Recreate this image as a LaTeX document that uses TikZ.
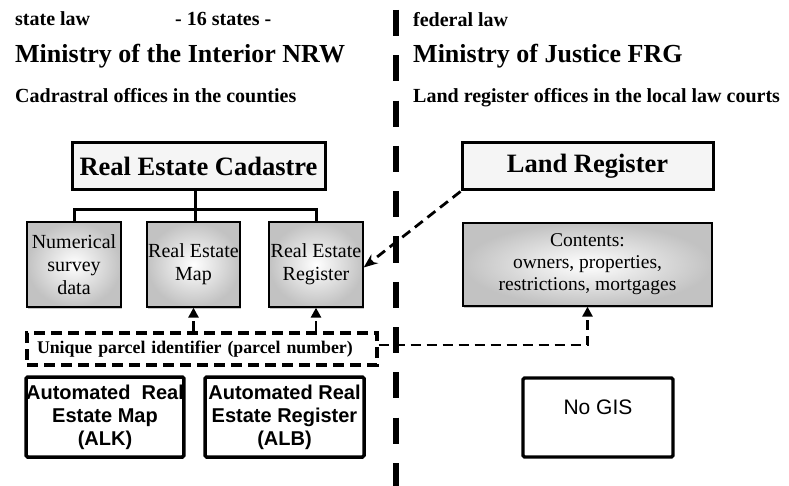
\documentclass[tikz,border=0pt]{standalone}
\usepackage{fontspec}
\setmainfont{Liberation Serif}
\newfontfamily\arialf{Liberation Sans}
\usetikzlibrary{arrows.meta,shadows}
\begin{document}
\begin{tikzpicture}[x=1pt,y=-1pt,
  hdr/.style={anchor=base west, inner sep=0pt, font=\bfseries\fontsize{20}{24}\selectfont},
  big/.style={anchor=base west, inner sep=0pt, font=\bfseries\fontsize{26}{30}\selectfont},
  topbox/.style={draw, line width=3pt, fill=black!4, minimum width=251pt, minimum height=47pt, inner sep=0pt,
    drop shadow={opacity=0.45, shadow xshift=1pt, shadow yshift=-1.5pt},
    font=\bfseries\fontsize{26.5}{30}\selectfont},
  subbox/.style={draw, line width=1.3pt, inner color=white, outer color=black!24, minimum height=85pt,
    inner sep=0pt, align=center, drop shadow={opacity=0.45, shadow xshift=0.8pt, shadow yshift=-1.5pt},
    font=\fontsize{20}{23}\selectfont},
  autobox/.style={draw, line width=3.5pt, rounded corners=1.5pt, minimum height=80pt, inner sep=0pt,
    align=center, font=\arialf\bfseries\fontsize{20}{23}\selectfont},
  tree/.style={line width=3pt},
  divider/.style={line width=6pt, dash pattern=on 26pt off 19.3pt},
  dashcon/.style={line width=2.8pt, dash pattern=on 10pt off 6pt},
  uparrow/.style={dashcon, -{Triangle[length=10pt,width=10pt]}},
]
\useasboundingbox (0,0) rectangle (789,486);

% divider
\coordinate (dtop) at (396,10);
\coordinate (dbot) at (396,486);
\draw[divider] (dtop) -- (dbot);

% headers left
\node[hdr] (statelaw) at (15,26) {state law};
\node[hdr] (states) at (175,26) {- 16 states -};
\node[big] (minint) at (15,63) {Ministry of the Interior NRW};
\node[hdr] (cadoff) at (15,103) {Cadrastral offices in the counties};

% headers right
\node[hdr] (fedlaw) at (413,27) {federal law};
\node[big] (minjus) at (413,63) {Ministry of Justice FRG};
\node[hdr] (landoff) at (413,103) {Land register offices in the local law courts};

% top boxes
\node[topbox, minimum width=253pt] (cad) at (198.5,166.5) {Real Estate Cadastre};
\node[topbox] (lr) at (587.5,166.5) {Land Register};

% sub boxes
\node[subbox, minimum width=94pt] (num) at (74,264.5) {Numerical\\survey\\data};
\node[subbox, minimum width=93pt] (map) at (193.5,264.5) {Real Estate\\Map};
\node[subbox, minimum width=94pt] (reg) at (316,264.5) {Real Estate\\Register};
\node[subbox, minimum width=249pt, minimum height=83pt, font=\fontsize{19.5}{22}\selectfont] (cont) at (587.5,264.5)
  {Contents:\\owners, properties,\\restrictions, mortgages};

% tree
\coordinate (bus) at (195,210);
\draw[tree] (cad.south -| bus) -- (bus);
\draw[tree] (num.north) |- (bus) -| (reg.north);
\draw[tree] (bus) -- (map.north -| bus);

% parcel identifier
\node[draw, line width=3.3pt, dash pattern=on 11pt off 6pt, minimum width=350pt, minimum height=32pt,
  inner xsep=10pt, inner ysep=0pt, text width=330pt, align=left,
  font=\bfseries\fontsize{17.8}{20}\selectfont] (parcel) at (202,349)
  {Unique parcel identifier (parcel number)};

\draw[uparrow] (parcel.north -| map.south) -- (map.south);
\draw[uparrow] (parcel.north -| reg.south) -- (reg.south);
\draw[uparrow] ([yshift=4pt]parcel.east) -| (cont.south);

% land register to real estate register
\draw[dashcon, -{Stealth[length=14pt,width=11pt]}] (lr.south west) -- ([yshift=-3pt]reg.east);

% automated boxes
\node[autobox, minimum width=156pt] (alk) at (105,417) {Automated\ \ Real\\Estate Map\\(ALK)};
\node[autobox, minimum width=159pt] (alb) at (284.5,417) {Automated Real\\Estate Register\\(ALB)};
\node[autobox, line width=3.3pt, minimum width=150pt, minimum height=79pt] (nogis) at (598,417.5) {};
\node[font=\arialf\fontsize{21}{24}\selectfont, inner sep=0pt] (nogistext) at (598,407) {No GIS};

\end{tikzpicture}
\end{document}
